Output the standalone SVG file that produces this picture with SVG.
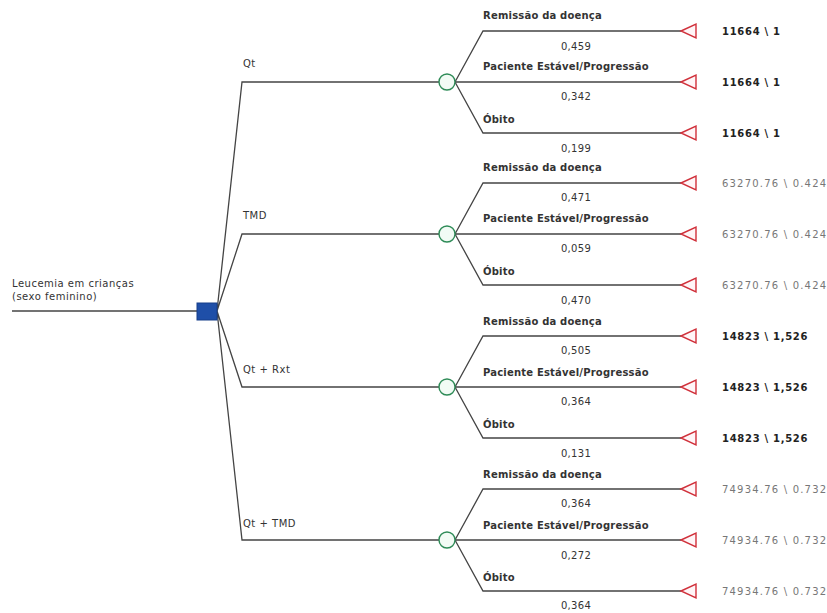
<svg xmlns="http://www.w3.org/2000/svg" width="827" height="613" viewBox="0 0 827 613">
<style>
text{font-family:"DejaVu Sans","Liberation Sans",sans-serif;font-size:10px;fill:#333}
.ln{fill:none;stroke:#444;stroke-width:1.3}
.lbl{font-weight:bold;fill:#333;letter-spacing:0.2px}
.pr{fill:#333;letter-spacing:0.3px}
.br{fill:#333;letter-spacing:0.5px}
.pb{font-weight:bold;fill:#222;letter-spacing:0.7px}
.pg{fill:#777;letter-spacing:1.2px}
.chance{fill:#f2fbf5;stroke:#2e8b57;stroke-width:1.4}
.term{fill:#fff5f7;stroke:#d0303a;stroke-width:1.4}
.dec{fill:#1f4fa8;stroke:#173f8a;stroke-width:1}
</style>
<rect width="827" height="613" fill="#fff"/>
<g id="connectors">
<path class="ln" d="M12 311H197"/>
<path class="ln" d="M217 311L242 82H439M217 311L242 234H439M217 311L242 387H439M217 311L242 540H439"/>
<path class="ln" d="M455 82L483 31H681M455 82H681M455 82L483 133H681"/>
<path class="ln" d="M455 234L483 183H681M455 234H681M455 234L483 285H681"/>
<path class="ln" d="M455 387L483 336H681M455 387H681M455 387L483 438H681"/>
<path class="ln" d="M455 540L483 489H681M455 540H681M455 540L483 591H681"/>
</g>
<g id="root">
<text x="12" y="287" class="br">Leucemia em crianças</text>
<text x="12" y="300" class="br">(sexo feminino)</text>
</g>
<g id="decision"><rect class="dec" x="197" y="303" width="20" height="17"/></g>
<g id="branch-qt"><text x="243" y="67" class="br">Qt</text><circle class="chance" cx="447" cy="82" r="8"/></g>
<g id="branch-tmd"><text x="243" y="219" class="br">TMD</text><circle class="chance" cx="447" cy="234" r="8"/></g>
<g id="branch-qtrxt"><text x="243" y="373" class="br">Qt + Rxt</text><circle class="chance" cx="447" cy="387" r="8"/></g>
<g id="branch-qttmd"><text x="243" y="527" class="br">Qt + TMD</text><circle class="chance" cx="447" cy="540" r="8"/></g>

<g id="o1a"><text x="483" y="19" class="lbl">Remissão da doença</text><text x="576" y="50" class="pr" text-anchor="middle">0,459</text><polygon class="term" points="681,31 696,24 696,38"/><text x="722" y="35" class="pb">11664 \ 1</text></g>
<g id="o1b"><text x="483" y="70" class="lbl">Paciente Estável/Progressão</text><text x="576" y="100" class="pr" text-anchor="middle">0,342</text><polygon class="term" points="681,82 696,75 696,89"/><text x="722" y="86" class="pb">11664 \ 1</text></g>
<g id="o1c"><text x="483" y="123" class="lbl">Óbito</text><text x="576" y="152" class="pr" text-anchor="middle">0,199</text><polygon class="term" points="681,133 696,126 696,140"/><text x="722" y="137" class="pb">11664 \ 1</text></g>

<g id="o2a"><text x="483" y="171" class="lbl">Remissão da doença</text><text x="576" y="201" class="pr" text-anchor="middle">0,471</text><polygon class="term" points="681,183 696,176 696,190"/><text x="722" y="187" class="pg">63270.76 \ 0.424</text></g>
<g id="o2b"><text x="483" y="222" class="lbl">Paciente Estável/Progressão</text><text x="576" y="252" class="pr" text-anchor="middle">0,059</text><polygon class="term" points="681,234 696,227 696,241"/><text x="722" y="238" class="pg">63270.76 \ 0.424</text></g>
<g id="o2c"><text x="483" y="275" class="lbl">Óbito</text><text x="576" y="304" class="pr" text-anchor="middle">0,470</text><polygon class="term" points="681,285 696,278 696,292"/><text x="722" y="289" class="pg">63270.76 \ 0.424</text></g>

<g id="o3a"><text x="483" y="325" class="lbl">Remissão da doença</text><text x="576" y="354" class="pr" text-anchor="middle">0,505</text><polygon class="term" points="681,336 696,329 696,343"/><text x="722" y="340" class="pb">14823 \ 1,526</text></g>
<g id="o3b"><text x="483" y="376" class="lbl">Paciente Estável/Progressão</text><text x="576" y="405" class="pr" text-anchor="middle">0,364</text><polygon class="term" points="681,387 696,380 696,394"/><text x="722" y="391" class="pb">14823 \ 1,526</text></g>
<g id="o3c"><text x="483" y="428" class="lbl">Óbito</text><text x="576" y="457" class="pr" text-anchor="middle">0,131</text><polygon class="term" points="681,438 696,431 696,445"/><text x="722" y="442" class="pb">14823 \ 1,526</text></g>

<g id="o4a"><text x="483" y="478" class="lbl">Remissão da doença</text><text x="576" y="507" class="pr" text-anchor="middle">0,364</text><polygon class="term" points="681,489 696,482 696,496"/><text x="722" y="493" class="pg">74934.76 \ 0.732</text></g>
<g id="o4b"><text x="483" y="529" class="lbl">Paciente Estável/Progressão</text><text x="576" y="559" class="pr" text-anchor="middle">0,272</text><polygon class="term" points="681,540 696,533 696,547"/><text x="722" y="544" class="pg">74934.76 \ 0.732</text></g>
<g id="o4c"><text x="483" y="581" class="lbl">Óbito</text><text x="576" y="609" class="pr" text-anchor="middle">0,364</text><polygon class="term" points="681,591 696,584 696,598"/><text x="722" y="595" class="pg">74934.76 \ 0.732</text></g>
</svg>
